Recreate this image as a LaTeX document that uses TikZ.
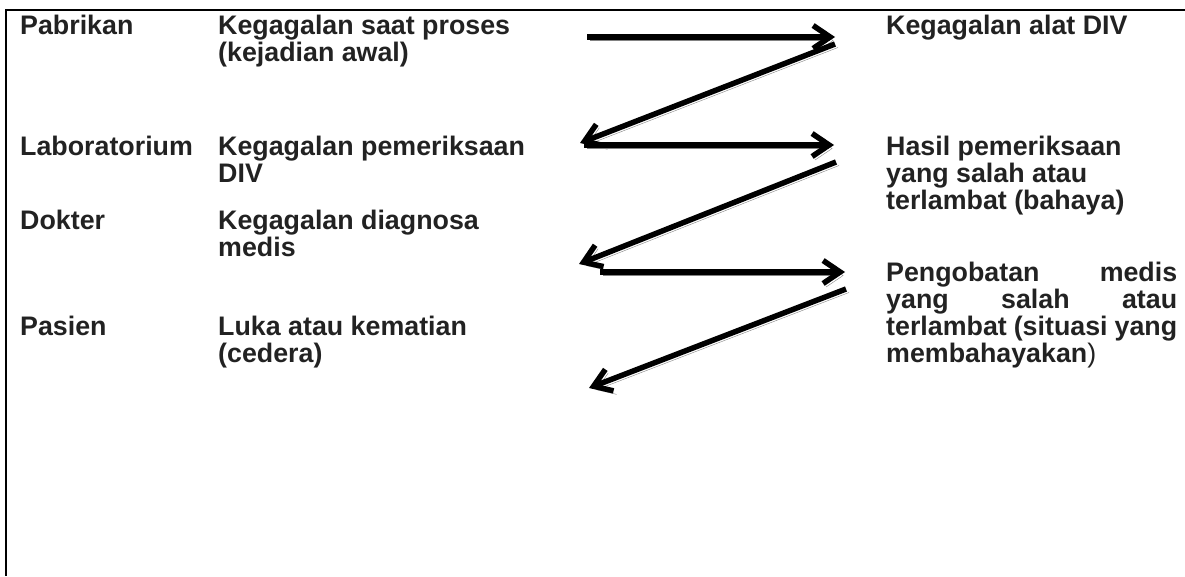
\documentclass[tikz,border=0pt]{standalone}
\usepackage{fontspec}
\setmainfont{Liberation Sans}
\usepackage{xcolor}
\usetikzlibrary{arrows.meta}
\definecolor{ink}{HTML}{222222}
\definecolor{shade}{HTML}{828282}
\hyphenpenalty=10000
\lineskiplimit=-100pt

\begin{document}
\begin{tikzpicture}[
  x=1pt, y=-1pt,
  txt/.style={
    anchor=base west, inner sep=0pt, align=left, text=ink,
    font=\fontsize{26.8}{27}\selectfont\bfseries
  },
  zarrow/.style={
    line width=5.5pt, draw=black, -{Straight Barb[length=17pt, width=23pt]},
    preaction={draw=shade, transform canvas={shift={(3pt,-3.5pt)}}}
  },
  frame/.style={line width=2pt, line join=miter}
]
  \useasboundingbox (0,0) rectangle (1185,576);
  \coordinate (tl) at (6,10);
  \coordinate (tr) at (1185,10);
  \coordinate (bl) at (6,576);
  \draw[frame] (tr) -- (tl) -- (bl);
  \node[txt] (pabrikan) at (20,34) {Pabrikan};
  \node[txt] (proses) at (218,61) {Kegagalan saat proses\\(kejadian awal)};
  \node[txt] (alat) at (886,34) {Kegagalan alat DIV};
  \node[txt] (lab) at (20,155) {Laboratorium};
  \node[txt] (periksa) at (218,182) {Kegagalan pemeriksaan\\DIV};
  \node[txt] (hasil) at (886,209) {Hasil pemeriksaan\\yang salah atau\\terlambat (bahaya)};
  \node[txt] (dokter) at (20,229) {Dokter};
  \node[txt] (diagnosa) at (218,256) {Kegagalan diagnosa\\medis};
  \node[txt] (obat) at (886,362) {\hbox to 291pt{Pengobatan\hfil medis}\\
    \hbox to 291pt{yang\hfil salah\hfil atau}\\
    \hbox to 291pt{terlambat\hfil (situasi\hfil yang}\\
    membahayakan{\mdseries)}};
  \node[txt] (pasien) at (20,335) {Pasien};
  \node[txt] (luka) at (218,362) {Luka atau kematian\\(cedera)};
  \coordinate (a1s) at (587,37);
  \coordinate (a1e) at (835,37);
  \coordinate (a2s) at (835,44);
  \coordinate (a2e) at (580,143);
  \coordinate (a3s) at (584,145);
  \coordinate (a3e) at (834,145);
  \coordinate (a4s) at (836,162);
  \coordinate (a4e) at (579,264);
  \coordinate (a5s) at (600,272);
  \coordinate (a5e) at (845,272);
  \coordinate (a6s) at (846,289);
  \coordinate (a6e) at (589,388);
  \draw[zarrow] (a1s) -- (a1e);
  \draw[zarrow] (a2s) -- (a2e);
  \draw[zarrow] (a3s) -- (a3e);
  \draw[zarrow] (a4s) -- (a4e);
  \draw[zarrow] (a5s) -- (a5e);
  \draw[zarrow] (a6s) -- (a6e);
\end{tikzpicture}
\end{document}
